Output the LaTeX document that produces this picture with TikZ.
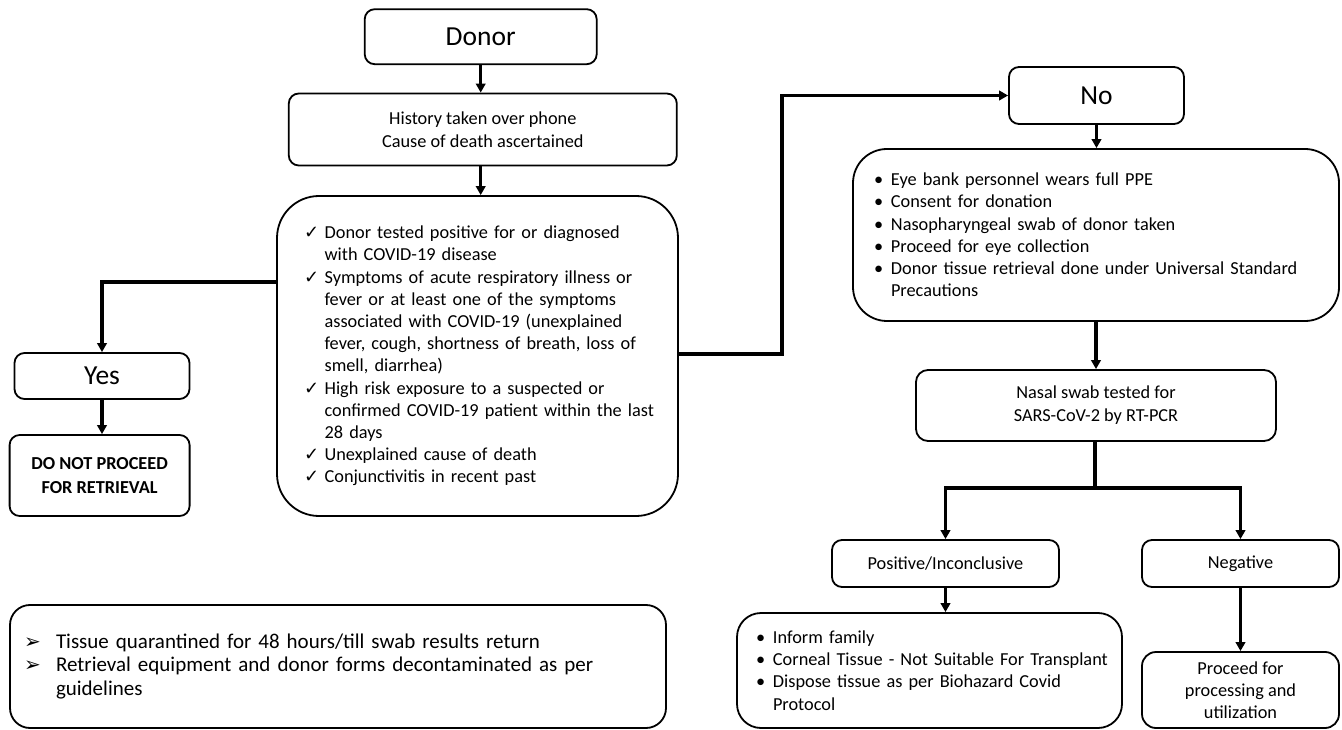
\documentclass[tikz,border=0pt]{standalone}
\usepackage{fontspec}
\setmainfont{Carlito}
\newfontfamily\symf{DejaVu Sans}
\usetikzlibrary{arrows.meta,calc}
\newcommand\ck{\makebox[18.6pt][l]{\hspace*{-2pt}\symf\fontsize{18}{16}\selectfont ✓}}
\newcommand\bu{\makebox[17pt][l]{•}}
\newcommand\arw{\makebox[32pt][l]{\symf\fontsize{20}{16}\selectfont ➢}}
\newcommand\ind[1]{\hspace*{#1}}
\tikzset{
  box/.style={draw, line width=1.8pt, rounded corners=10pt, align=center, inner sep=0pt,
    font=\fontsize{18.3}{23}\selectfont},
  big/.style={font=\fontsize{27.5}{30}\selectfont},
  listbox/.style={draw, line width=1.8pt, align=left, inner ysep=0pt,
    font=\fontsize{18.3}{22.2}\selectfont},
  conn/.style={line width=3.2pt, -{Triangle[length=9pt,width=9.5pt]}},
  plain/.style={line width=3.2pt}
}
\begin{document}
\begin{tikzpicture}[x=1pt,y=-1pt]
\fill[white] (0,0) rectangle (1342,730);
\useasboundingbox (0,0) rectangle (1342,730);

\node[box,big,minimum width=232pt,minimum height=55pt] (donor) at (480.7,36.7) {Donor};
\node[box,minimum width=388pt,minimum height=72pt] (hist) at (482.8,129.5)
  {History taken over phone\\Cause of death ascertained};
\node[listbox,rounded corners=42pt,text width=343pt,inner xsep=29pt,minimum height=320pt] (crit) at (477.5,356)
  {\mbox{\ck Donor tested positive for or diagnosed}\\
   \mbox{\ind{18.6pt}with COVID-19 disease}\\
   \mbox{\ck Symptoms of acute respiratory illness or}\\
   \mbox{\ind{18.6pt}fever or at least one of the symptoms}\\
   \mbox{\ind{18.6pt}associated with COVID-19 (unexplained}\\
   \mbox{\ind{18.6pt}fever, cough, shortness of breath, loss of}\\
   \mbox{\ind{18.6pt}smell, diarrhea)}\\
   \mbox{\ck High risk exposure to a suspected or}\\
   \mbox{\ind{18.6pt}confirmed COVID-19 patient within the last}\\
   \mbox{\ind{18.6pt}28 days}\\
   \mbox{\ck Unexplained cause of death}\\
   \mbox{\ck Conjunctivitis in recent past}};
\node[box,big,minimum width=175pt,minimum height=46pt] (yes) at (102,376) {Yes};
\node[box,font=\bfseries\fontsize{18.3}{24}\selectfont,minimum width=180pt,minimum height=81pt] (dnp) at (99.6,475.5)
  {DO NOT PROCEED\\FOR RETRIEVAL};
\node[box,big,minimum width=175pt,minimum height=57pt] (no) at (1096.5,95.5) {No};
\node[listbox,rounded corners=34pt,text width=444pt,inner xsep=21pt,minimum height=172pt] (ppe) at (1096,235)
  {\mbox{\bu Eye bank personnel wears full PPE}\\
   \mbox{\bu Consent for donation}\\
   \mbox{\bu Nasopharyngeal swab of donor taken}\\
   \mbox{\bu Proceed for eye collection}\\
   \mbox{\bu Donor tissue retrieval done under Universal Standard}\\
   \mbox{\ind{17pt}Precautions}};
\node[box,rounded corners=12pt,minimum width=360pt,minimum height=71pt] (nasal) at (1096,405.5)
  {Nasal swab tested for\\SARS-CoV-2 by RT-PCR};
\node[box,minimum width=227pt,minimum height=47pt] (pos) at (945.5,563.5) {Positive/Inconclusive};
\node[box,minimum width=197pt,minimum height=47pt] (neg) at (1240.5,563.5) {Negative};
\node[listbox,rounded corners=24pt,text width=347pt,inner xsep=19pt,minimum height=115pt] (inform) at (929.5,670.5)
  {\mbox{\bu Inform family}\\
   \mbox{\bu Corneal Tissue - Not Suitable For Transplant}\\
   \mbox{\bu Dispose tissue as per Biohazard Covid}\\
   \mbox{\ind{17pt}Protocol}};
\node[box,rounded corners=14pt,font=\fontsize{18.3}{22.2}\selectfont,minimum width=197pt,minimum height=76pt] (proc) at (1240.5,690)
  {Proceed for\\processing and\\utilization};
\node[listbox,rounded corners=20pt,text width=628pt,inner xsep=14pt,minimum height=123pt,
  font=\fontsize{21}{23.5}\selectfont] (quar) at (338,666.5)
  {\mbox{\arw Tissue quarantined for 48 hours/till swab results return}\\
   \mbox{\arw Retrieval equipment and donor forms decontaminated as per}\\
   \mbox{\ind{32pt}guidelines}};

\draw[conn] (donor.south) -- (donor.south |- hist.north);
\draw[conn] (donor.south |- hist.south) -- (donor.south |- crit.north);
\draw[conn] (crit.west |- 0,282) -| (yes.north);
\draw[conn] (yes.south) -- (yes.south |- dnp.north);
\coordinate (rb) at (782,354);
\draw[conn] (crit.east |- rb) -- (rb) |- (no.west);
\draw[conn] (no.south) -- (no.south |- ppe.north);
\draw[conn] (ppe.south) -- (ppe.south |- nasal.north);
\coordinate (sp) at (1095,488);
\draw[plain] (nasal.south -| sp) -- (sp);
\draw[conn] (sp) -| (pos.north);
\draw[conn] (sp) -| (neg.north);
\draw[conn] (pos.south) -- (pos.south |- inform.north);
\draw[conn] (neg.south) -- (neg.south |- proc.north);
\end{tikzpicture}
\end{document}
